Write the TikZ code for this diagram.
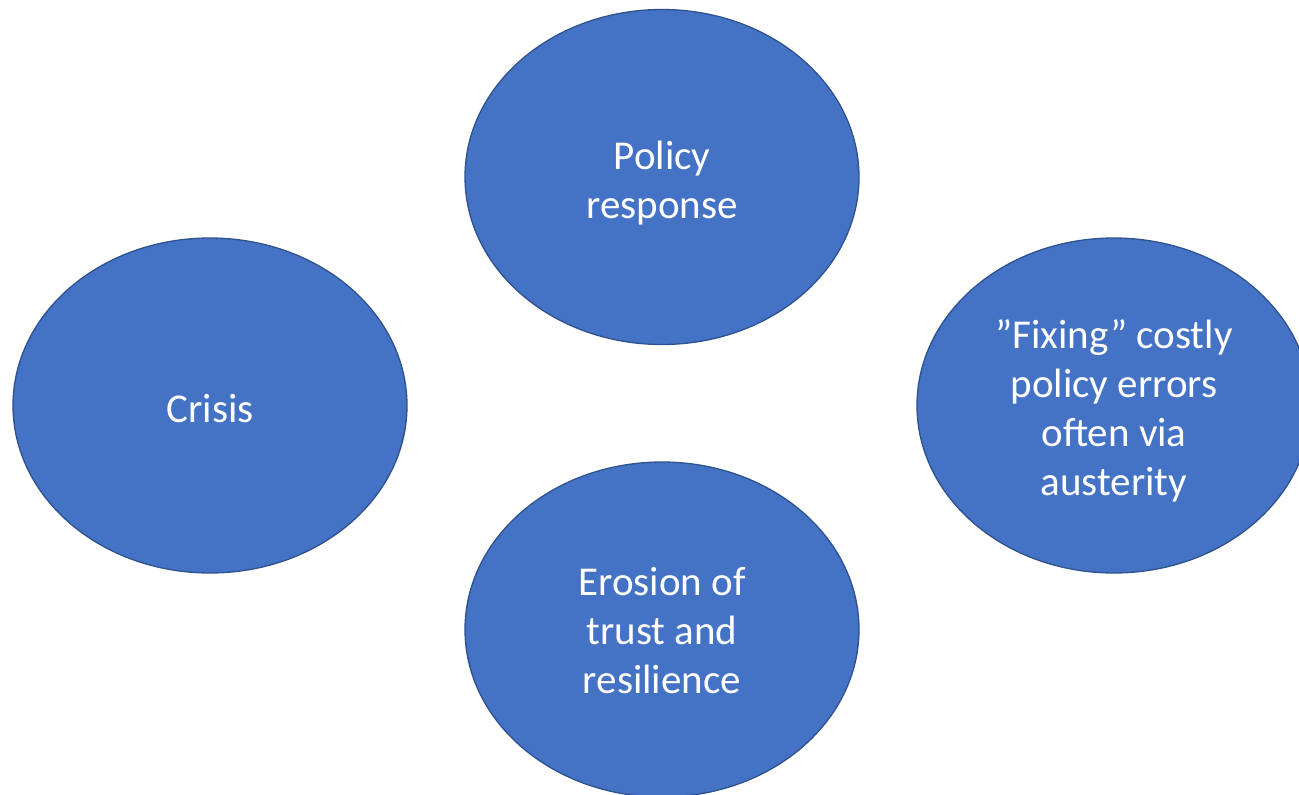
\documentclass[tikz,border=0pt]{standalone}
\usepackage{fontspec}
\setmainfont{Carlito}
\usetikzlibrary{shapes.geometric}
\definecolor{fillblue}{HTML}{4472C4}
\definecolor{edgeblue}{HTML}{2F528F}
\tikzset{
  bubble/.style={ellipse, fill=fillblue, draw=edgeblue, line width=1.3pt,
    minimum width=394pt, minimum height=335pt, inner sep=0pt},
  bubbletext/.style={text=white, align=center, inner sep=0pt,
    font=\fontsize{41pt}{49pt}\selectfont}
}
\begin{document}
\begin{tikzpicture}[x=1pt,y=-1pt]
\useasboundingbox (0,0) rectangle (1299,795);
\clip (0,0) rectangle (1299,795);
\node[bubble, label={[bubbletext, yshift=-3pt]center:Crisis}] (crisis) at (210,405.5) {};
\node[bubble, label={[bubbletext, yshift=-6pt]center:Policy\\response}] (policy) at (662,177) {};
\node[bubble, label={[bubbletext, yshift=-5pt]center:”Fixing” costly\\policy errors\\often via\\austerity}] (fixing) at (1114,405.5) {};
\node[bubble, label={[bubbletext, yshift=-1pt]center:Erosion of\\trust and\\resilience}] (erosion) at (662,629.5) {};
\end{tikzpicture}
\end{document}
